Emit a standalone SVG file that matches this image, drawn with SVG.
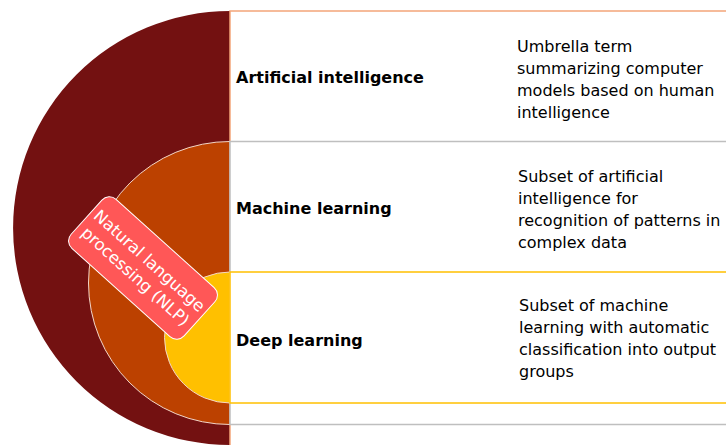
<svg xmlns="http://www.w3.org/2000/svg" width="726" height="445" viewBox="0 0 726 445">
<style>
.title{font-family:"DejaVu Sans",Verdana,sans-serif;font-size:16px;font-weight:bold;fill:#000}
.desc{font-family:"DejaVu Sans",Verdana,sans-serif;font-size:16px;fill:#000}
.lbl{font-family:"DejaVu Sans",Verdana,sans-serif;font-size:16.5px;fill:#fff}
.arc{stroke:#F3D6C8;stroke-width:1}
</style>
<rect width="726" height="445" fill="#fff"/>
<g id="ai">
<path d="M230,11 A217,217 0 0 0 230,445 Z" fill="#731111"/>
<rect x="230" y="11" width="510" height="450" fill="#fff" stroke="#F4A57A" stroke-width="1.5"/>
<text class="title" x="236" y="83">Artificial intelligence</text>
<text class="desc" x="517" y="52">Umbrella term</text>
<text class="desc" x="517" y="74">summarizing computer</text>
<text class="desc" x="517" y="96">models based on human</text>
<text class="desc" x="517" y="118">intelligence</text>
</g>
<g id="ml">
<path d="M230,141.5 A141.5,141.5 0 0 0 230,424.5 Z" fill="#BC4100" class="arc"/>
<rect x="230" y="141.5" width="510" height="283" fill="#fff" stroke="#BFBFBF" stroke-width="1.5"/>
<text class="title" x="236" y="214">Machine learning</text>
<text class="desc" x="518" y="182">Subset of artificial</text>
<text class="desc" x="518" y="204">intelligence for</text>
<text class="desc" x="518" y="226">recognition of patterns in</text>
<text class="desc" x="518" y="248">complex data</text>
</g>
<g id="dl">
<path d="M230,272 A65.5,65.5 0 0 0 230,403 Z" fill="#FFC000" class="arc"/>
<rect x="230" y="272" width="510" height="131" fill="#fff" stroke="#FFC000" stroke-width="1.5"/>
<text class="title" x="236" y="346">Deep learning</text>
<text class="desc" x="519" y="311">Subset of machine</text>
<text class="desc" x="519" y="333">learning with automatic</text>
<text class="desc" x="519" y="355">classification into output</text>
<text class="desc" x="519" y="377">groups</text>
</g>
<g id="nlp" transform="translate(143,268) rotate(42)">
<rect x="-76" y="-33" width="152" height="66" rx="10" ry="10" fill="#FF5757" stroke="#fff" stroke-width="1"/>
<text class="lbl" x="0" y="-4" text-anchor="middle">Natural language</text>
<text class="lbl" x="0" y="17" text-anchor="middle">processing (NLP)</text>
</g>
<g id="connectors"/>
</svg>
